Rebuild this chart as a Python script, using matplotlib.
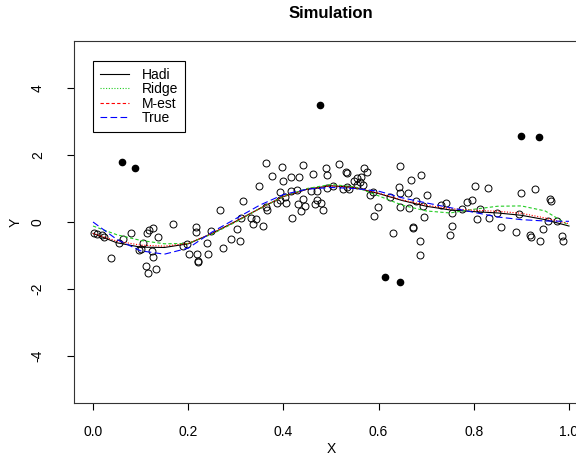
import matplotlib
matplotlib.use("Agg")
import matplotlib.pyplot as plt
from matplotlib.lines import Line2D

plt.rcParams['font.family'] = ['Liberation Sans', 'DejaVu Sans']

# observed points (open circles)
x_obs = [0.002, 0.009, 0.019, 0.023, 0.064, 0.055, 0.080, 0.037, 0.113, 0.118,
         0.125, 0.137, 0.167, 0.104, 0.100, 0.097, 0.124, 0.125, 0.111, 0.132,
         0.116, 0.197, 0.202,
         0.363, 0.396, 0.376, 0.399, 0.349, 0.393, 0.316, 0.267, 0.363, 0.366,
         0.387, 0.405, 0.310, 0.332, 0.342, 0.336, 0.357, 0.302, 0.216, 0.216,
         0.247, 0.289, 0.309, 0.274, 0.239, 0.190, 0.219, 0.242, 0.220, 0.220,
         0.441, 0.489, 0.491, 0.517, 0.532, 0.533, 0.462, 0.415, 0.433, 0.569,
         0.576, 0.555, 0.564, 0.548, 0.561, 0.554, 0.568, 0.533, 0.538, 0.525,
         0.504, 0.491, 0.471, 0.457, 0.429, 0.417, 0.403, 0.393, 0.441, 0.431,
         0.445, 0.438, 0.470, 0.466, 0.480, 0.484, 0.582, 0.598, 0.590, 0.419,
         0.645, 0.689, 0.668, 0.643, 0.646, 0.662, 0.701, 0.588, 0.624, 0.679,
         0.742, 0.731, 0.785, 0.646, 0.664, 0.694, 0.775, 0.754, 0.695, 0.672,
         0.672, 0.754, 0.630, 0.749, 0.688, 0.686,
         0.803, 0.829, 0.899, 0.929, 0.960, 0.962, 0.796, 0.813, 0.848, 0.896,
         0.957, 0.975, 0.806, 0.833, 0.857, 0.888, 0.918, 0.920, 0.939, 0.945,
         0.985, 0.988]
y_obs = [-0.34, -0.36, -0.39, -0.46, -0.52, -0.63, -0.34, -1.07, -0.34, -0.24,
         -0.19, -0.44, -0.07, -0.64, -0.81, -0.84, -0.87, -1.04, -1.31, -1.41,
         -1.53, -0.67, -0.96,
         1.75, 1.63, 1.37, 1.22, 1.07, 0.89, 0.63, 0.36, 0.46, 0.36,
         0.56, 0.56, 0.11, 0.11, 0.09, -0.06, -0.11, -0.22, -0.16, -0.31,
         -0.27, -0.52, -0.56, -0.77, -0.64, -0.71, -0.96, -0.96, -1.16, -1.19,
         1.70, 1.60, 1.40, 1.72, 1.50, 1.45, 1.42, 1.33, 1.34, 1.60,
         1.48, 1.30, 1.33, 1.22, 1.20, 1.10, 1.10, 1.04, 0.99, 0.98,
         1.08, 1.01, 0.93, 0.93, 0.96, 0.93, 0.76, 0.66, 0.68, 0.53,
         0.48, 0.34, 0.66, 0.53, 0.56, 0.35, 0.81, 0.44, 0.17, 0.12,
         1.67, 1.40, 1.25, 1.04, 0.86, 0.87, 0.81, 0.89, 0.76, 0.64,
         0.58, 0.51, 0.61, 0.46, 0.43, 0.48, 0.38, 0.28, 0.14, -0.14,
         -0.18, -0.11, -0.33, -0.40, -0.56, -0.99,
         1.08, 1.02, 0.86, 0.99, 0.68, 0.63, 0.67, 0.38, 0.26, 0.23,
         0.04, 0.03, 0.08, 0.13, -0.16, -0.31, -0.39, -0.44, -0.56, -0.22,
         -0.42, -0.56]

# outliers (filled)
x_out = [0.061, 0.088, 0.477, 0.613, 0.646, 0.900, 0.938]
y_out = [1.79, 1.61, 3.49, -1.64, -1.78, 2.56, 2.53]

# fitted curves
x_grid = [0.00, 0.05, 0.10, 0.15, 0.20, 0.25, 0.30, 0.35, 0.40, 0.45, 0.50,
          0.55, 0.60, 0.65, 0.70, 0.75, 0.80, 0.85, 0.90, 0.95, 1.00]
hadi = [-0.34, -0.62, -0.75, -0.76, -0.65, -0.34, 0.02, 0.40, 0.76, 0.98, 1.08,
        1.03, 0.85, 0.64, 0.47, 0.36, 0.31, 0.27, 0.20, 0.07, -0.12]
ridge = [-0.12, -0.38, -0.55, -0.65, -0.64, -0.36, 0.00, 0.40, 0.76, 1.00, 1.12,
         1.05, 0.78, 0.50, 0.33, 0.27, 0.38, 0.47, 0.48, 0.33, -0.10]
mest = [-0.34, -0.57, -0.69, -0.72, -0.64, -0.34, 0.02, 0.40, 0.76, 0.98, 1.08,
        1.03, 0.86, 0.66, 0.50, 0.40, 0.35, 0.32, 0.26, 0.12, -0.05]
true = [0.00, -0.52, -0.86, -0.96, -0.78, -0.30, 0.10, 0.50, 0.82, 0.98, 1.03,
        1.00, 0.92, 0.72, 0.57, 0.43, 0.29, 0.15, 0.07, 0.03, 0.02]

x_ticks = [0.0, 0.2, 0.4, 0.6, 0.8, 1.0]
y_ticks = [-4, -2, 0, 2, 4]

fig = plt.figure(figsize=(5.76, 4.65), dpi=100)
ax = fig.add_axes([74 / 576, 62 / 465, 514 / 576, 362 / 465])

ax.plot(x_obs, y_obs, 'o', mfc='none', mec='black', ms=5, mew=0.7)
ax.plot(x_out, y_out, 'o', color='black', ms=4.5)

lw = 0.8
ax.plot(x_grid, hadi, color='black', lw=lw, ls='-')
ax.plot(x_grid, ridge, color='#22cc22', lw=lw, ls=(0, (3, 2)))
ax.plot(x_grid, mest, color='red', lw=lw, ls=(0, (1, 1.5)))
ax.plot(x_grid, true, color='blue', lw=lw, ls=(0, (6, 3)))

ax.set_xlim(-0.04, 1.04)
ax.set_ylim(-5.4, 5.4)
ax.set_xticks(x_ticks)
ax.set_xticklabels(['%.1f' % t for t in x_ticks])
ax.set_yticks(y_ticks)
ax.set_yticklabels([str(t) for t in y_ticks], rotation=90, va='center')
ax.tick_params(direction='out', length=5, width=0.8, labelsize=10)
ax.tick_params(axis='x', pad=11)
ax.tick_params(axis='y', pad=16)
for s in ax.spines.values():
    s.set_linewidth(0.8)
    s.set_color('#333333')

ax.set_xlabel('X', fontsize=10, labelpad=2)
ax.set_ylabel('Y', fontsize=10, labelpad=6)
fig.text(331 / 576, 1 - 14 / 465, 'Simulation', ha='center', va='center',
         fontsize=12, fontweight='bold')

handles = [
    Line2D([], [], color='black', lw=lw, ls='-'),
    Line2D([], [], color='#22cc22', lw=lw, ls=(0, (1, 1.5))),
    Line2D([], [], color='red', lw=lw, ls=(0, (3, 2))),
    Line2D([], [], color='blue', lw=lw, ls=(0, (6, 3))),
]
leg = ax.legend(handles, ['Hadi', 'Ridge', 'M-est', 'True'],
                loc='upper left', bbox_to_anchor=(93 / 576, 1 - 61 / 465),
                bbox_transform=fig.transFigure, borderaxespad=0,
                fancybox=False, edgecolor='black', framealpha=1,
                fontsize=10, handlelength=2.1, handletextpad=0.9,
                labelspacing=0.02, borderpad=0.5)
leg.get_frame().set_linewidth(0.8)

fig.savefig('out.png', dpi=100)
